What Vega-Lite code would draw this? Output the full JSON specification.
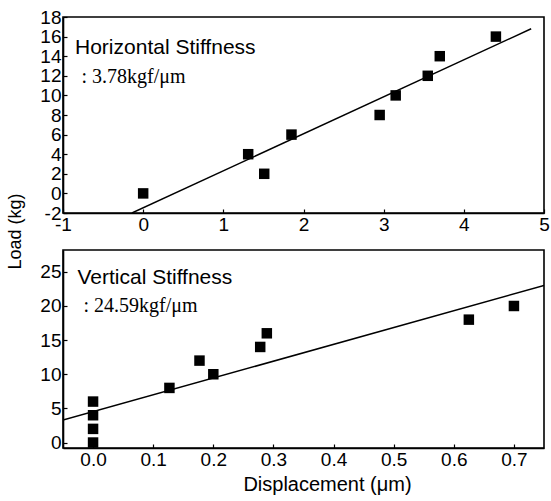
{
  "$schema": "https://vega.github.io/schema/vega-lite/v6.json",
  "padding": {"left": 5, "top": 7, "right": 0, "bottom": 3},
  "background": "white",
  "bounds": "flush",
  "spacing": 37,
  "config": {
    "font": "Liberation Sans",
    "view": {"stroke": "black", "strokeWidth": 1.6},
    "axis": {
      "grid": false,
      "domainColor": "black",
      "domainWidth": 1.6,
      "tickColor": "black",
      "tickWidth": 1.2,
      "tickSize": -4,
      "labelPadding": 6,
      "labelColor": "black",
      "labelFont": "Liberation Sans",
      "labelFontSize": 19,
      "labelFlush": false,
      "labelOverlap": false,
      "labelBound": false,
      "titleColor": "black",
      "titleFont": "Liberation Sans",
      "titleFontWeight": "normal"
    }
  },
  "datasets": {
    "h_pts": [
      {"disp": 0.0, "load": 0},
      {"disp": 1.31, "load": 4},
      {"disp": 1.51, "load": 2},
      {"disp": 1.85, "load": 6},
      {"disp": 2.95, "load": 8},
      {"disp": 3.15, "load": 10},
      {"disp": 3.55, "load": 12},
      {"disp": 3.70, "load": 14},
      {"disp": 4.40, "load": 16}
    ],
    "h_fit": [
      {"disp": -0.14, "load": -2},
      {"disp": 4.84, "load": 16.8}
    ],
    "v_pts": [
      {"disp": 0.0, "load": 0},
      {"disp": 0.0, "load": 2},
      {"disp": 0.0, "load": 4},
      {"disp": 0.0, "load": 6},
      {"disp": 0.127, "load": 8},
      {"disp": 0.177, "load": 12},
      {"disp": 0.2, "load": 10},
      {"disp": 0.278, "load": 14},
      {"disp": 0.289, "load": 16},
      {"disp": 0.625, "load": 18},
      {"disp": 0.70, "load": 20}
    ],
    "v_fit": [
      {"disp": -0.05, "load": 3.3},
      {"disp": 0.75, "load": 23.0}
    ],
    "h_text": [
      {"disp": -0.85, "load": 14.2, "label": "Horizontal Stiffness", "kind": "title"},
      {"disp": -0.77, "load": 11.3, "label": ": 3.78kgf/μm", "kind": "value"}
    ],
    "v_text": [
      {"disp": -0.026, "load": 23.2, "label": "Vertical Stiffness", "kind": "title"},
      {"disp": -0.016, "load": 19.15, "label": ": 24.59kgf/μm", "kind": "value"}
    ]
  },
  "vconcat": [
    {
      "width": 481,
      "height": 196,
      "encoding": {
        "x": {"field": "disp", "type": "quantitative",
              "scale": {"domain": [-1, 5], "nice": false, "zero": false},
              "axis": {"values": [-1, 0, 1, 2, 3, 4, 5], "format": "d", "labelOverlap": false,
                       "labelExpr": "replace(datum.label, '−', '-')", "title": null}},
        "y": {"field": "load", "type": "quantitative",
              "scale": {"domain": [-2, 18], "nice": false, "zero": false},
              "axis": {"values": [-2, 0, 2, 4, 6, 8, 10, 12, 14, 16, 18], "format": "d",
                       "labelOverlap": false, "labelPadding": 6,
                       "labelExpr": "replace(datum.label, '−', '-')",
                       "title": "Load (kg)", "titleFontSize": 18, "titleAngle": -90,
                       "titleAlign": "center", "titleBaseline": "middle",
                       "titleX": -48, "titleY": 214}}
      },
      "layer": [
        {
          "data": {"name": "h_fit"},
          "mark": {"type": "line", "color": "black", "strokeWidth": 1.5, "clip": true}
        },
        {
          "data": {"name": "h_pts"},
          "mark": {"type": "square", "filled": true, "color": "black", "opacity": 1, "size": 110}
        },
        {
          "data": {"name": "h_text"},
          "transform": [{"filter": "datum.kind === 'title'"}],
          "mark": {"type": "text", "align": "left", "baseline": "alphabetic", "font": "Liberation Sans", "fontSize": 21, "color": "black"},
          "encoding": {"text": {"field": "label"}}
        },
        {
          "data": {"name": "h_text"},
          "transform": [{"filter": "datum.kind === 'value'"}],
          "mark": {"type": "text", "align": "left", "baseline": "alphabetic", "font": "Liberation Serif", "fontSize": 20, "color": "black"},
          "encoding": {"text": {"field": "label"}}
        }
      ]
    },
    {
      "width": 481,
      "height": 198,
      "encoding": {
        "x": {"field": "disp", "type": "quantitative",
              "scale": {"domain": [-0.05, 0.75], "nice": false, "zero": false},
              "axis": {"values": [0, 0.1, 0.2, 0.3, 0.4, 0.5, 0.6, 0.7], "format": ".1f",
                       "labelOverlap": false,
                       "title": "Displacement (μm)", "titleFontSize": 20,
                       "titleAlign": "center", "titleBaseline": "middle",
                       "titleX": 264, "titleY": 36}},
        "y": {"field": "load", "type": "quantitative",
              "scale": {"domain": [-0.8, 28.2], "nice": false, "zero": false},
              "axis": {"values": [0, 5, 10, 15, 20, 25], "format": "d", "labelOverlap": false,
                       "labelPadding": 6, "title": null}}
      },
      "layer": [
        {
          "data": {"name": "v_fit"},
          "mark": {"type": "line", "color": "black", "strokeWidth": 1.5, "clip": true}
        },
        {
          "data": {"name": "v_pts"},
          "mark": {"type": "square", "filled": true, "color": "black", "opacity": 1, "size": 110}
        },
        {
          "data": {"name": "v_text"},
          "transform": [{"filter": "datum.kind === 'title'"}],
          "mark": {"type": "text", "align": "left", "baseline": "alphabetic", "font": "Liberation Sans", "fontSize": 21, "color": "black"},
          "encoding": {"text": {"field": "label"}}
        },
        {
          "data": {"name": "v_text"},
          "transform": [{"filter": "datum.kind === 'value'"}],
          "mark": {"type": "text", "align": "left", "baseline": "alphabetic", "font": "Liberation Serif", "fontSize": 20, "color": "black"},
          "encoding": {"text": {"field": "label"}}
        }
      ]
    }
  ]
}
